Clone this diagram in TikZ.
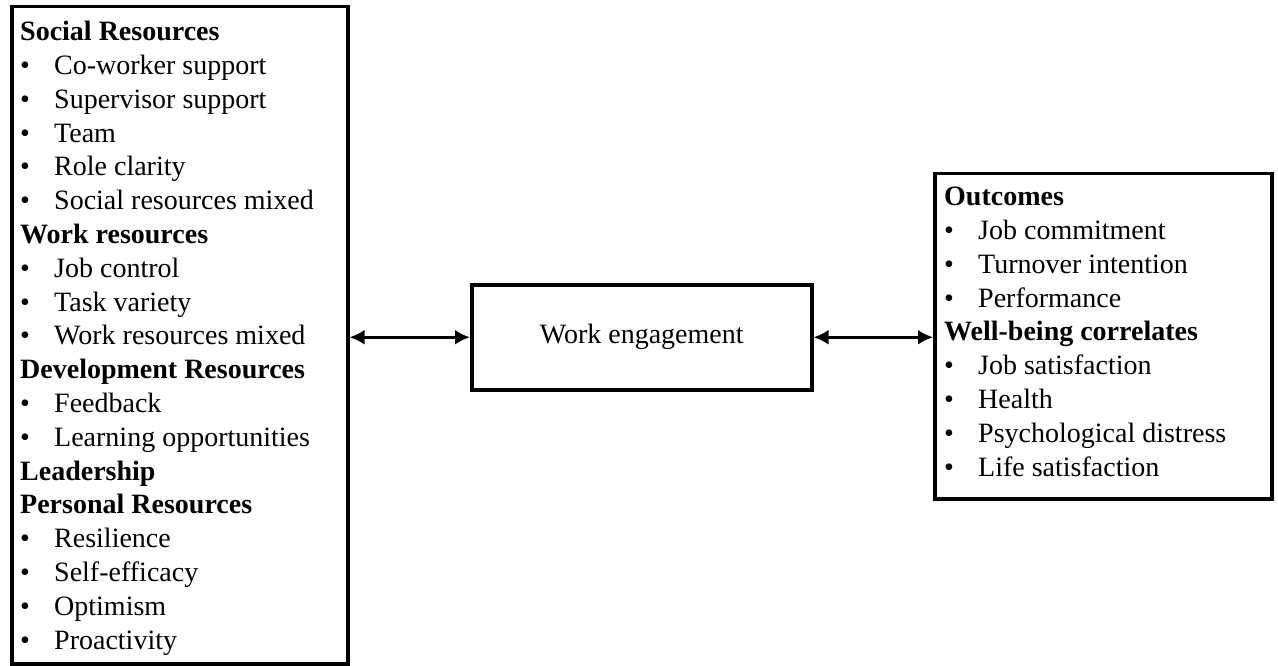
\documentclass[tikz,border=0pt]{standalone}
\usepackage{fontspec}
\setmainfont{Liberation Serif}
\usetikzlibrary{arrows.meta}
\newcommand{\itm}[1]{\makebox[34pt][l]{\textbullet}#1}
\tikzset{
  frame/.style={draw, line width=3.5pt, inner sep=0pt, anchor=north west},
  listtext/.style={anchor=north west, align=left, inner sep=0pt, font=\fontsize{28}{33.8}\selectfont},
  link/.style={line width=3.5pt, {Latex[length=15pt,width=15pt]}-{Latex[length=15pt,width=15pt]}}
}
\begin{document}
\begin{tikzpicture}[x=1pt,y=-1pt]
\useasboundingbox (0,0) rectangle (1278,666);
\node[frame, minimum width=336pt, minimum height=657pt] (L) at (10,5) {};
\node[frame, minimum width=340pt, minimum height=105pt, font=\fontsize{28}{33.8}\selectfont] (M) at (470,283) {Work engagement};
\node[frame, minimum width=337pt, minimum height=325pt] (R) at (933,172) {};
\node[listtext] (Lt) at (20,21) {\textbf{Social Resources}\\
\itm{Co-worker support}\\
\itm{Supervisor support}\\
\itm{Team}\\
\itm{Role clarity}\\
\itm{Social resources mixed}\\
\textbf{Work resources}\\
\itm{Job control}\\
\itm{Task variety}\\
\itm{Work resources mixed}\\
\textbf{Development Resources}\\
\itm{Feedback}\\
\itm{Learning opportunities}\\
\textbf{Leadership}\\
\textbf{Personal Resources}\\
\itm{Resilience}\\
\itm{Self-efficacy}\\
\itm{Optimism}\\
\itm{Proactivity}};
\node[listtext] (Rt) at (944,187) {\textbf{Outcomes}\\
\itm{Job commitment}\\
\itm{Turnover intention}\\
\itm{Performance}\\
\textbf{Well-being correlates}\\
\itm{Job satisfaction}\\
\itm{Health}\\
\itm{Psychological distress}\\
\itm{Life satisfaction}};
\draw[link] (M.west -| L.east) -- (M.west);
\draw[link] (M.east) -- (M.east -| R.west);
\end{tikzpicture}
\end{document}
